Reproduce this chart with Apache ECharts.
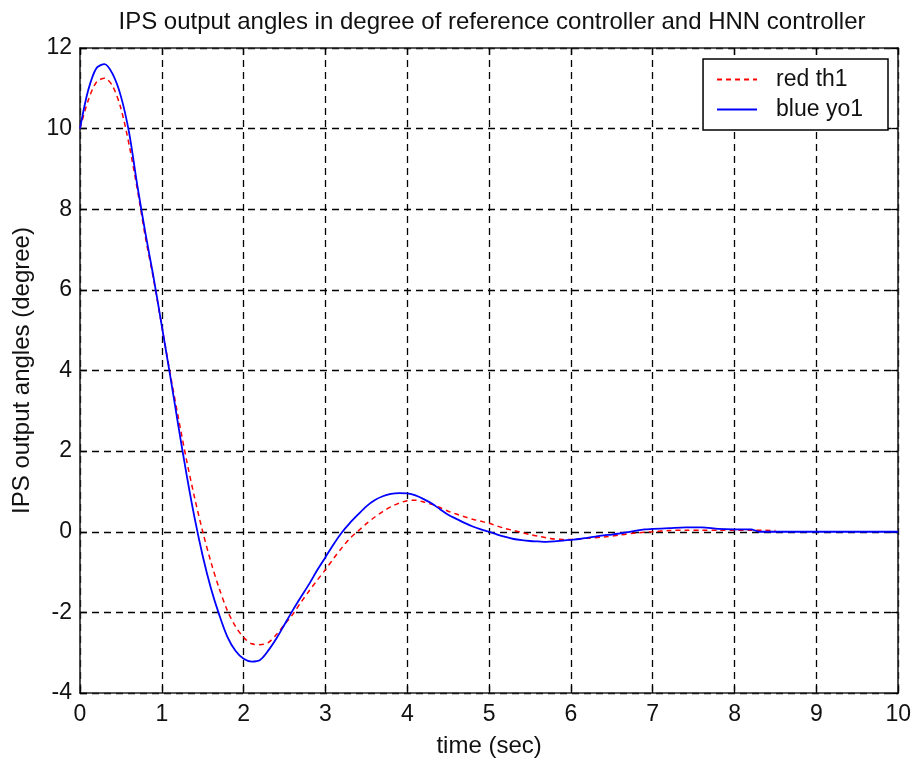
<!DOCTYPE html>
<html>
<head>
<meta charset="utf-8">
<script src="https://cdn.jsdelivr.net/npm/echarts@6/dist/echarts.min.js"></script>
<style>html,body{margin:0;padding:0;background:#fff;}#c{width:914px;height:764px;}</style>
</head>
<body>
<div id="c"></div>
<script>
var titleText = 'IPS output angles in degree of reference controller and HNN controller';
var xName = 'time (sec)';
var yName = 'IPS output angles (degree)';
var seriesNames = ['red th1', 'blue yo1'];

var timeRed = [0,0.1,0.2,0.3,0.4,0.5,0.6,0.7,0.8,0.9,1.0,1.1,1.2,1.3,1.4,1.5,1.6,1.7,1.8,1.9,2.0,2.1,2.2,2.3,2.4,2.5,2.6,2.7,2.8,2.9,3.0,3.1,3.2,3.3,3.4,3.5,3.6,3.7,3.8,3.9,4.0,4.1,4.2,4.3,4.4,4.5,4.6,4.7,4.8,4.9,5.0,5.1,5.2,5.3,5.4,5.5,5.6,5.7,5.8,5.9,6.0,6.2,6.4,6.6,6.8,7.0,7.2,7.4,7.6,7.8,8.0,8.2,8.5];
var redTh1 = [10.0,10.7,11.15,11.25,11.05,10.5,9.6,8.5,7.3,6.25,5.1,3.95,2.85,1.8,0.85,0.0,-0.75,-1.4,-1.95,-2.35,-2.62,-2.78,-2.8,-2.75,-2.55,-2.3,-2.05,-1.75,-1.47,-1.2,-0.94,-0.66,-0.4,-0.16,0.02,0.2,0.36,0.5,0.62,0.71,0.77,0.78,0.74,0.68,0.6,0.51,0.44,0.37,0.31,0.26,0.21,0.14,0.08,0.03,-0.02,-0.07,-0.11,-0.15,-0.18,-0.19,-0.19,-0.16,-0.13,-0.08,-0.03,0.0,0.03,0.04,0.04,0.04,0.04,0.04,0.03];

var timeBlue = [0,0.1,0.2,0.3,0.4,0.5,0.6,0.7,0.8,0.9,1.0,1.1,1.2,1.3,1.4,1.5,1.6,1.7,1.8,1.9,2.0,2.1,2.2,2.3,2.4,2.5,2.6,2.7,2.8,2.9,3.0,3.1,3.2,3.3,3.4,3.5,3.6,3.7,3.8,3.9,4.0,4.1,4.2,4.3,4.4,4.5,4.6,4.7,4.8,4.9,5.0,5.1,5.2,5.3,5.4,5.5,5.6,5.7,5.8,5.9,6.0,6.1,6.2,6.3,6.4,6.5,6.6,6.7,6.8,6.9,7.0,7.2,7.4,7.6,7.8,8.0,8.2,8.3,8.5,9.0,9.5,10.0];
var blueYo1 = [10.0,10.95,11.5,11.6,11.35,10.8,9.9,8.6,7.4,6.3,5.1,3.9,2.65,1.45,0.35,-0.6,-1.4,-2.05,-2.6,-2.95,-3.15,-3.22,-3.18,-2.95,-2.65,-2.3,-1.95,-1.62,-1.3,-0.95,-0.63,-0.31,-0.02,0.22,0.43,0.63,0.78,0.88,0.94,0.96,0.95,0.9,0.81,0.7,0.56,0.42,0.32,0.22,0.13,0.06,0.0,-0.07,-0.13,-0.18,-0.21,-0.23,-0.24,-0.25,-0.24,-0.22,-0.2,-0.18,-0.15,-0.12,-0.09,-0.07,-0.04,-0.01,0.03,0.06,0.07,0.09,0.11,0.11,0.07,0.06,0.06,0.0,0.0,0.0,0.0,0.0];

var xMin = 0, xMax = 10, xStep = 1;
var yMin = -4, yMax = 12, yStep = 2;

function pairs(t, v) { return t.map(function (x, i) { return [x, v[i]]; }); }

var font = '"Liberation Sans", Arial, sans-serif';
var chart = echarts.init(document.getElementById('c'), null, { renderer: 'canvas' });
var gridDash = { color: '#000', type: [7, 5], width: 1.3 };
var axisLineStyle = { onZero: false, lineStyle: { color: '#222', width: 1.6 } };
var tickStyle = { show: true, inside: true, length: 7, lineStyle: { color: '#000', width: 1.3 } };

chart.setOption({
  backgroundColor: '#fff',
  animation: false,
  title: {
    text: titleText,
    left: 487, textAlign: 'center', top: 5,
    textStyle: { fontFamily: font, fontSize: 24, fontWeight: 'normal', color: '#111' }
  },
  legend: {
    data: [
      { name: seriesNames[0] },
      { name: seriesNames[1] }
    ],
    orient: 'vertical',
    right: 26, top: 59,
    itemWidth: 40, itemHeight: 22,
    itemGap: 7,
    padding: [9, 25, 9, 13],
    backgroundColor: '#fff',
    borderColor: '#000', borderWidth: 1.5, borderRadius: 0,
    itemStyle: { opacity: 0 },
    textStyle: { fontFamily: font, fontSize: 23, color: '#111', padding: [0, 0, 0, 14] }
  },
  grid: { left: 80, right: 14, top: 48, bottom: 71, show: false },
  xAxis: [{
    type: 'value', min: xMin, max: xMax, interval: xStep,
    name: xName, nameLocation: 'middle', nameGap: 41,
    nameTextStyle: { fontFamily: font, fontSize: 24, color: '#111' },
    axisLine: axisLineStyle,
    axisTick: tickStyle,
    axisLabel: { fontFamily: font, fontSize: 23, color: '#111', margin: 10 },
    splitLine: { show: true, lineStyle: gridDash }
  }, {
    type: 'value', min: xMin, max: xMax, interval: xStep, position: 'top',
    axisLine: axisLineStyle,
    axisTick: tickStyle,
    axisLabel: { show: false }, splitLine: { show: false }
  }],
  yAxis: [{
    type: 'value', min: yMin, max: yMax, interval: yStep,
    name: yName, nameLocation: 'middle', nameGap: 46,
    nameTextStyle: { fontFamily: font, fontSize: 24, color: '#111' },
    axisLine: { show: true, onZero: false, lineStyle: { color: '#222', width: 1.6 } },
    axisTick: tickStyle,
    axisLabel: { fontFamily: font, fontSize: 23, color: '#111', margin: 8 },
    splitLine: { show: true, lineStyle: gridDash }
  }, {
    type: 'value', min: yMin, max: yMax, interval: yStep, position: 'right',
    axisLine: { show: true, onZero: false, lineStyle: { color: '#222', width: 1.6 } },
    axisTick: tickStyle,
    axisLabel: { show: false }, splitLine: { show: false }
  }],
  series: [{
    name: seriesNames[0], type: 'line', smooth: 0.3, symbol: 'none',
    xAxisIndex: 0, yAxisIndex: 0, z: 3,
    data: pairs(timeRed, redTh1),
    itemStyle: { color: '#ff0000' },
    lineStyle: { color: '#ff0000', width: 1.5, type: [5, 4] }
  }, {
    name: seriesNames[1], type: 'line', smooth: 0.3, symbol: 'none',
    xAxisIndex: 0, yAxisIndex: 0, z: 4,
    data: pairs(timeBlue, blueYo1),
    itemStyle: { color: '#0000ff' },
    lineStyle: { color: '#0000ff', width: 1.8 }
  }]
});
</script>
</body>
</html>
